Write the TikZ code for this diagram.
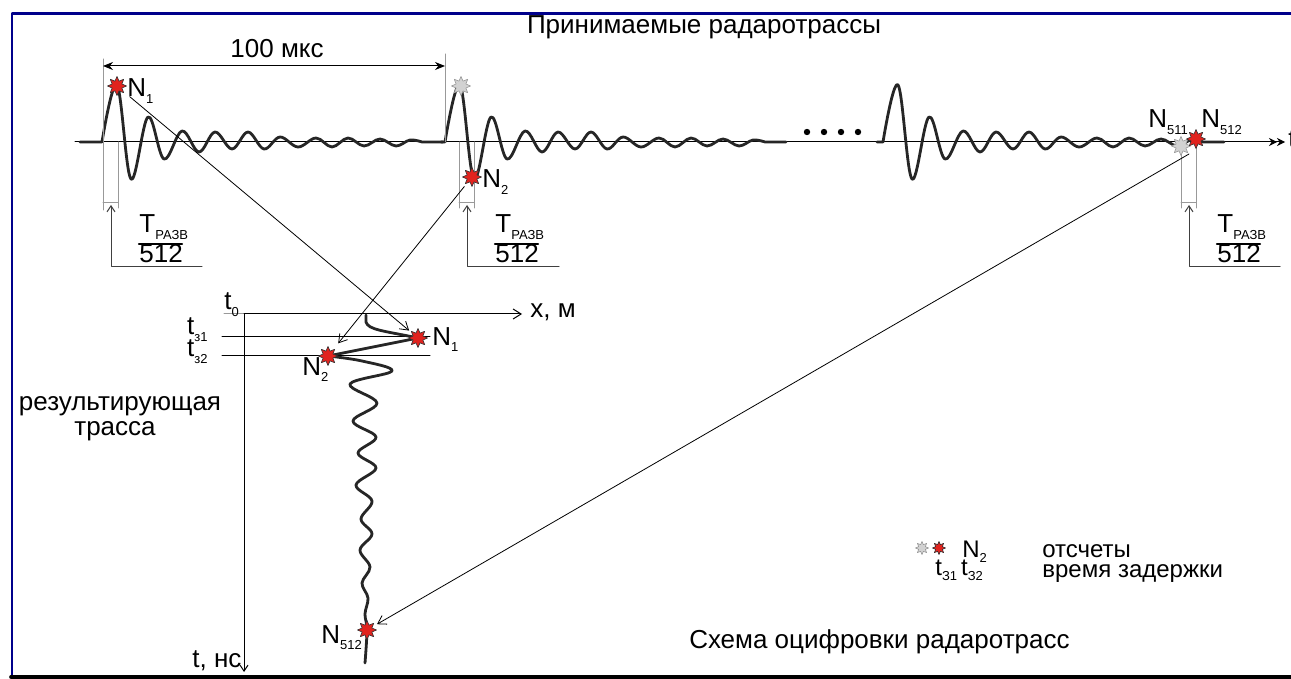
\documentclass[tikz,border=0pt]{standalone}
\usepackage{fontspec}
\setmainfont{Liberation Sans}
\usetikzlibrary{calc, positioning}
\usetikzlibrary{arrows.meta}
\usetikzlibrary{shapes.geometric}

\newcommand{\lsub}[1]{\raisebox{-0.45ex}{\fontsize{6.5}{7}\selectfont #1}}

% one received trace, onset at x=#1, flat lead-in of length #2
\newcommand{\radtrace}[2]{%
  \draw[wave, shift={(#1,142)}] (-#2,0) -- plot[smooth, tension=0.6] coordinates
    {(0,0) (15,-57) (29,37) (46,-25) (62,17) (80,-11) (97,10) (113,-10) (130,7)
     (146,-10) (162,7) (178,-5) (196,5) (214,-4) (230,5) (246,-4) (262,4)
     (278,-3) (294,4) (308,-2) (320,0)} -- (341,0);}

% sampling step bracket with its pointer
\newcommand{\sweepmark}[4]{%
  \draw[guide] (#1,142) -- (#1,208) (#2,142) -- (#2,208) (#1,203) -- (#2,203);
  \draw[pointer] (#4,267) -- (#3,267) -- (#3,205);}

% T_razv / 512
\newcommand{\sweepfrac}[2]{%
  \node[txt, anchor=base west] (#1t) at (#2,233) {T\lsub{РАЗВ}};
  \draw[line width=1.1pt] (#2,244) -- ++(43,0);
  \node[txt, anchor=base west] (#1n) at (#2,263) {512};}

\begin{document}
\begin{tikzpicture}[x=0.5pt, y=-0.5pt, line join=round, line cap=round,
  font=\fontsize{13}{15}\selectfont,
  wave/.style={line width=1.4pt, black!85},
  axisline/.style={line width=0.5pt, black},
  guide/.style={line width=0.5pt, gray!80},
  pointer/.style={line width=0.5pt, black!75, -{Straight Barb[length=3pt, width=4pt]}},
  ray/.style={line width=0.4pt, black, -{Straight Barb[length=4pt, width=5pt]}},
  redstar/.style={star, star points=8, star point ratio=1.8, minimum size=9.5pt,
    inner sep=0pt, fill=starred, draw=black!80, line width=0.3pt},
  greystar/.style={redstar, fill=gray!35, draw=gray!80},
  txt/.style={inner sep=0pt},
  legendfont/.style={font=\fontsize{12}{14}\selectfont}]
\definecolor{framecol}{RGB}{0,0,139}
\definecolor{starred}{RGB}{225,35,30}

\fill[white] (0,0) rectangle (1291,679);
\useasboundingbox (0,0) rectangle (1291,679);

% frame
\draw[line width=1.4pt, framecol] (1291,13.5) -- (12,13.5) -- (12,677);
\draw[line width=1.8pt, black] (11,677) -- (1291,677);

\node[txt, anchor=base] (title) at (704,34) {Принимаемые радаротрассы};

% received traces
\draw[axisline, -{Stealth[length=4pt, width=4pt]Stealth[length=4pt, width=4pt]}]
  (75,142) -- (1285,142);
\node[txt, anchor=base west] (tlab) at (1288,148) {t};
\radtrace{102}{22}
\radtrace{445}{4}
\radtrace{883}{6}
\foreach \x in {807,824,841,858}
  \fill (\x,132) circle (1.6pt);

% period
\draw[guide] (103,59) -- (103,210);
\draw[guide] (445,54) -- (445,142);
\draw[axisline, {Stealth[length=5pt, width=4pt]}-{Stealth[length=5pt, width=4pt]}]
  (103,66) -- (445,66);
\node[txt, anchor=base] (period) at (277,58) {100 мкс};

\sweepmark{103}{118}{111}{202}
\sweepmark{459}{474}{467}{559}
\sweepmark{1181}{1196}{1189}{1280}
\sweepfrac{fa}{139}
\sweepfrac{fb}{495}
\sweepfrac{fc}{1217}

\node[redstar] (n1) at (117,86) {};
\node[greystar] (g2) at (461,86) {};
\node[redstar] (n2) at (472,177) {};
\node[greystar] (g511) at (1181,146) {};
\node[redstar] (n512) at (1196,139) {};
\node[txt, anchor=base west] (ln1) at (127,97) {N\lsub{1}};
\node[txt, anchor=base west] (ln2) at (482,188) {N\lsub{2}};
\node[txt, anchor=base west] (ln511) at (1148,128) {N\lsub{511}};
\node[txt, anchor=base west] (ln512) at (1201,128) {N\lsub{512}};

% resulting trace axes
\draw[guide] (224,314) -- (280,314);
\draw[axisline, -{Straight Barb[length=4pt, width=5pt]}] (244,314) -- (522,314);
\draw[axisline, -{Straight Barb[length=3pt, width=4pt]}] (244,314) -- (244,672);
\draw[axisline] (222,337) -- (430,337);
\draw[axisline] (222,356) -- (430,356);
\node[txt, anchor=base west] (xlab) at (530,318) {x, м};
\node[txt, anchor=base west] (tns) at (192,667) {t, нс};
\node[txt, anchor=base west] (t0) at (224,310) {t\lsub{0}};
\node[txt, anchor=base east] (tz1) at (208,335) {t\lsub{з1}};
\node[txt, anchor=base east] (tz2) at (208,357) {t\lsub{з2}};
\node[txt, anchor=base] (res1) at (120,410) {результирующая};
\node[txt, anchor=base] (res2) at (115,436) {трасса};

% resulting trace
\draw[wave] (366,315) -- (366,322) .. controls (368,330) and (385,331) .. (418,338)
  -- (328,356);
\draw[wave] plot[smooth, tension=0.6] coordinates
  {(328,356) (362,361) (392,371) (350,384) (377,403) (353,421) (376,437)
   (358,453) (376,468) (356,485) (372,501) (361,519) (372,534) (360,550)
   (370,567) (362,583) (368,598) (365,614) (367,630) (365,663)};
\node[redstar] (r1) at (418,338) {};
\node[redstar] (r2) at (328,356) {};
\node[redstar] (r512) at (367,630) {};
\node[txt, anchor=base west] (lr1) at (432,345) {N\lsub{1}};
\node[txt, anchor=base west] (lr2) at (302,375) {N\lsub{2}};
\node[txt, anchor=base west] (lr512) at (321,643) {N\lsub{512}};

% sample transfer
\coordinate (c512) at (1189,154);
\draw[ray, shorten <=4pt, shorten >=1.5pt] (n1) -- (r1);
\draw[ray, shorten <=2pt, shorten >=4pt] (n2) -- (r2);
\draw[ray, shorten >=2.5pt] (c512) -- (r512);

% legend
\node[greystar, minimum size=6.5pt] (lgg) at (922,548) {};
\node[redstar, minimum size=6.5pt] (lgr) at (939,548) {};
\node[txt, anchor=base west, legendfont] (lgn) at (962,557) {N\lsub{2}};
\node[txt, anchor=base west, legendfont] (lgt) at (935,575) {t\lsub{З1}\,t\lsub{З2}};
\node[txt, anchor=base west, legendfont] (lgo) at (1042,557) {отсчеты};
\node[txt, anchor=base west, legendfont] (lgv) at (1042,577) {время задержки};

\node[txt, anchor=base east] (caption) at (1070,648) {Схема оцифровки радаротрасс};
\end{tikzpicture}
\end{document}
